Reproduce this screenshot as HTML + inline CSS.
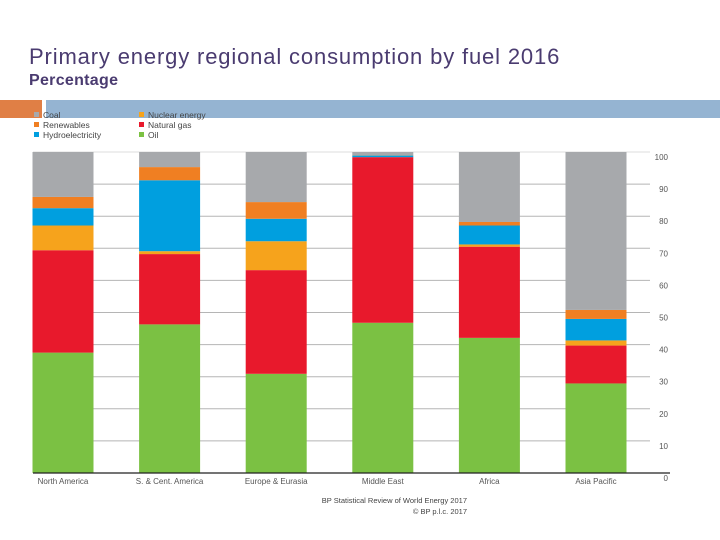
<!DOCTYPE html>
<html><head><meta charset="utf-8"><style>
body{margin:0;width:720px;height:540px;background:#fff;position:relative;overflow:hidden;font-family:"Liberation Sans",sans-serif}
#title{position:absolute;left:29px;top:44px;font-size:22px;letter-spacing:0.85px;color:#4a3b70;white-space:nowrap}
#sub{position:absolute;left:29px;top:72px;font-size:16px;font-weight:bold;letter-spacing:0.3px;color:#4a3b70}
</style></head><body>
<div id="title">Primary energy regional consumption by fuel 2016</div>
<div id="sub">Percentage</div>
<div style="position:absolute;left:0;top:100px;width:42px;height:18px;background:#e07f45"></div>
<div style="position:absolute;left:46px;top:100px;width:674px;height:18px;background:#95b4d2"></div>
<svg id="chart" width="720" height="540" style="position:absolute;left:0;top:0"></svg>
<script>
const categories=["North America","S. & Cent. America","Europe & Eurasia","Middle East","Africa","Asia Pacific"];
const oil=[37.5,46.3,30.9,46.8,42.1,27.9];
const gas=[31.9,21.9,32.3,51.6,28.4,11.8];
const nuclear=[7.7,0.9,9.0,0,0.7,1.6];
const hydro=[5.4,22.1,7.0,0.5,5.9,6.7];
const renew=[3.5,4.1,5.2,0.1,1.1,2.8];
const coal=[14.0,4.7,15.6,1.0,21.8,49.2];
const ticks=[0,10,20,30,40,50,60,70,80,90,100];
const seriesNames=["Oil","Natural gas","Nuclear energy","Hydroelectricity","Renewables","Coal"];
const series=[oil,gas,nuclear,hydro,renew,coal];
const colors=["#7bc143","#e8192c","#f6a31c","#009fdf","#f07f22","#a7a9ac"];
const NS="http://www.w3.org/2000/svg";
const svg=document.getElementById('chart');
const y0=473,y100=152,xL=33,xR=670;
const y=v=>y0-(y0-y100)*v/100;
const step=106.6,bw=61;
const xc=i=>63+i*step;
function mk(t,a,p){const e=document.createElementNS(NS,t);for(const k in a)e.setAttribute(k,a[k]);(p||svg).appendChild(e);return e;}
ticks.forEach(t=>{
  if(t>0){const l=mk('line',{x1:xL,x2:xR-20,y1:y(t),y2:y(t),stroke:t==100?'#ddd':'#b5b5b5','stroke-width':1});
  
  }
  const tx=mk('text',{x:668,y:y(t)+8,'font-size':8,fill:'#555','text-anchor':'end'});
  tx.textContent=t;
  
  
});
categories.forEach((c,i)=>{
  let cum=0;
  series.forEach((s,k)=>{
    const v=s[i];if(v<=0){return;}
    const r=mk('rect',{x:xc(i)-bw/2,y:y(cum+v),width:bw,height:y(cum)-y(cum+v),fill:colors[k]});
    
    
    cum+=v;
  });
  const t=mk('text',{x:xc(i),y:484,'font-size':8,fill:'#555','text-anchor':'middle'});
  t.textContent=c;
  
  
});
const ax=mk('line',{x1:xL,x2:xR,y1:y0,y2:y0,stroke:'#222','stroke-width':1.2});


const leg=[["Coal","#a7a9ac",34,117],["Renewables","#f07f22",34,127],["Hydroelectricity","#009fdf",34,137],["Nuclear energy","#f6a31c",139,117],["Natural gas","#e8192c",139,127],["Oil","#7bc143",139,137]];
leg.forEach(l=>{
  const r=mk('rect',{x:l[2],y:l[3]-5,width:5,height:5,fill:l[1]});
  
  
  const t=mk('text',{x:l[2]+9,y:l[3]+1,'font-size':8.5,fill:'#444'});
  t.textContent=l[0];
  
  
});
const f1=mk('text',{x:467,y:503,'font-size':7.5,fill:'#444','text-anchor':'end'});
f1.textContent="BP Statistical Review of World Energy 2017";


const f2=mk('text',{x:467,y:514,'font-size':7.5,fill:'#444','text-anchor':'end'});
f2.textContent="© BP p.l.c. 2017";


</script>
</body></html>
